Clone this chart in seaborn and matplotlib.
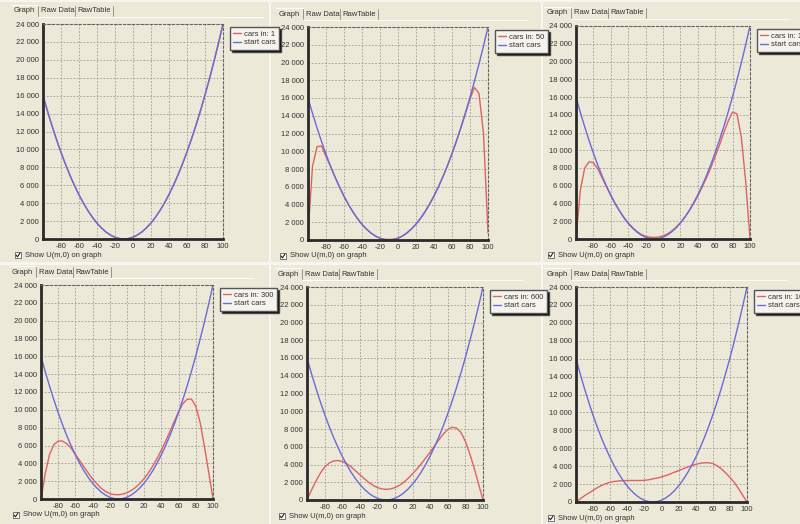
import pandas as pd
import matplotlib.pyplot as plt
import seaborn as sns
from matplotlib.patches import Rectangle
from matplotlib.lines import Line2D

# --- data -------------------------------------------------------------
X_POS = list(range(-100, 101, 5))

START_CARS = [16000, 14270, 12640, 11110, 9670, 8340, 7100, 5970, 4930, 3990,
              3150, 2410, 1770, 1230, 780, 440, 190, 50, 0, 50,
              200, 450, 800, 1250, 1790, 2440, 3180, 4030, 4970, 6010,
              7150, 8390, 9730, 11170, 12700, 14340, 16070, 17910, 19840, 21870,
              24000]

CARS_1 = list(START_CARS)

CARS_50 = [600, 8300, 10500, 10600, 9400, 8300, 7100, 5970, 4930, 3990,
           3150, 2410, 1770, 1230, 780, 440, 200, 90, 60, 90,
           210, 450, 800, 1250, 1790, 2440, 3180, 4030, 4970, 6010,
           7150, 8390, 9730, 11170, 12700, 14300, 15900, 17200, 16500, 12000,
           800]

CARS_130 = [0, 5500, 8000, 8700, 8600, 7900, 6900, 5900, 4900, 4000,
            3200, 2450, 1800, 1300, 850, 520, 300, 200, 180, 220,
            350, 570, 900, 1330, 1850, 2450, 3150, 3950, 4850, 5850,
            6900, 8050, 9300, 10600, 12000, 13300, 14300, 14100, 11500, 6500,
            0]

CARS_300 = [0, 2900, 5000, 6100, 6500, 6500, 6200, 5700, 5000, 4300,
            3600, 2900, 2250, 1700, 1200, 850, 600, 500, 480, 550,
            700, 950, 1300, 1750, 2300, 2950, 3700, 4550, 5500, 6500,
            7600, 8700, 9800, 10700, 11200, 11200, 10400, 8600, 5900, 3000,
            0]

CARS_600 = [0, 1100, 2100, 3000, 3700, 4150, 4400, 4450, 4350, 4100,
            3750, 3300, 2850, 2400, 2000, 1650, 1400, 1250, 1200, 1250,
            1400, 1650, 2000, 2450, 2950, 3500, 4100, 4750, 5400, 6100,
            6800, 7450, 7950, 8200, 8100, 7600, 6600, 5200, 3600, 1800,
            0]

CARS_1000 = [0, 350, 700, 1000, 1300, 1600, 1850, 2050, 2200, 2300,
             2350, 2380, 2400, 2400, 2400, 2400, 2420, 2480, 2580, 2680,
             2800, 2950, 3120, 3320, 3500, 3700, 3880, 4050, 4200, 4320,
             4380, 4380, 4300, 4050, 3700, 3250, 2750, 2200, 1500, 750,
             0]

STEPS = [1, 50, 130, 300, 600, 1000]
CARS = [CARS_1, CARS_50, CARS_130, CARS_300, CARS_600, CARS_1000]

X_TICKS = [-80, -60, -40, -20, 0, 20, 40, 60, 80, 100]
Y_TICKS = list(range(0, 24001, 2000))
TABS = ["Graph", "Raw Data", "RawTable"]
CHECK_TEXT = "Show U(m,0) on graph"

# --- layout (pixels in the 800x524 picture) --------------------------
W, H = 800, 524
AX_BOXES = [(43, 24, 223, 239), (308, 27, 488, 240), (576, 26, 750, 239),
            (41, 285, 213, 499), (307, 287, 483, 500), (576, 287, 747, 502)]
PANEL_RECTS = [(0, 2, 269, 262), (271, 2, 541, 262), (543, 2, 800, 262),
               (0, 265, 269, 524), (271, 265, 541, 524), (543, 265, 800, 524)]

BEIGE = "#ECE9D8"
RED = "#E06262"
BLUE = "#6A6ADC"
TXT = "#333333"
FS = 5.5

sns.set_style("white")
plt.rcParams["font.family"] = ["Liberation Sans", "DejaVu Sans"]

fig = plt.figure(figsize=(8, 5.24), dpi=100)
fig.patch.set_facecolor("#F7F6F0")


def fx(px):
    return px / W


def fy(py):
    return 1 - py / H


for (x0, y0, x1, y1) in PANEL_RECTS:
    fig.add_artist(Rectangle((fx(x0), fy(y1)), fx(x1 - x0), (y1 - y0) / H,
                             transform=fig.transFigure, facecolor=BEIGE,
                             edgecolor="none", zorder=-5))

for i, (l, t, r, b) in enumerate(AX_BOXES):
    ax = fig.add_axes([fx(l), fy(b), fx(r - l), (b - t) / H])
    ax.set_facecolor(BEIGE)

    label = f"cars in: {STEPS[i]}"
    df = pd.DataFrame({
        "x": X_POS * 2,
        "value": CARS[i] + START_CARS,
        "series": [label] * len(X_POS) + ["start cars"] * len(X_POS),
    })
    sns.lineplot(data=df, x="x", y="value", hue="series",
                 hue_order=[label, "start cars"],
                 palette={label: RED, "start cars": BLUE},
                 linewidth=1.0, legend=False, ax=ax)

    ax.set_xlim(-100, 100)
    ax.set_ylim(0, 24000)
    ax.set_xticks(X_TICKS)
    ax.set_xticklabels([str(v) for v in X_TICKS])
    ax.set_yticks(Y_TICKS)
    ax.set_yticklabels([f"{v:,}".replace(",", " ") for v in Y_TICKS])
    ax.tick_params(length=0, labelsize=FS, colors=TXT, pad=3)
    ax.set_xlabel("")
    ax.set_ylabel("")
    ax.grid(True, color="#9A9A90", linestyle=(0, (2, 2)), linewidth=0.6)

    for side in ["left", "bottom"]:
        ax.spines[side].set_color("#2A2A2A")
        ax.spines[side].set_linewidth(2.0)
    for side in ["top", "right"]:
        ax.spines[side].set_color("#666660")
        ax.spines[side].set_linewidth(0.8)
        ax.spines[side].set_linestyle((0, (2, 2)))

    # legend box with hard drop shadow
    handles = [Line2D([], [], color=RED, lw=1.0), Line2D([], [], color=BLUE, lw=1.0)]
    ax.legend(handles, [label, "start cars"], loc="upper left",
              bbox_to_anchor=(fx(r + 7), fy(t + 3)), bbox_transform=fig.transFigure,
              borderaxespad=0, fontsize=FS, handlelength=1.0, handletextpad=0.4,
              borderpad=0.45, labelspacing=0.15, fancybox=False,
              frameon=True, edgecolor="#555555", facecolor="#F4F3EC",
              framealpha=1, labelcolor=TXT,
              shadow={"ox": 1.5, "oy": -1.5, "facecolor": "black", "alpha": 1.0})

    # tab strip
    ty = t - 13
    tab_x = [l - 29, l - 2, l + 34]
    for name, tx in zip(TABS, tab_x):
        fig.text(fx(tx), fy(ty), name, fontsize=FS, color=TXT,
                 ha="left", va="center")
    for sx in [l - 5, l + 32, l + 70]:
        fig.add_artist(Line2D([fx(sx), fx(sx)], [fy(ty - 5), fy(ty + 5)],
                              transform=fig.transFigure, color="#8A8878", lw=0.6))
    fig.add_artist(Line2D([fx(l - 32), fx(l - 5)], [fy(ty - 6), fy(ty - 6)],
                          transform=fig.transFigure, color="#FFFFFF", lw=0.6))
    fig.add_artist(Line2D([fx(l - 5), fx(r + 40)], [fy(ty + 6), fy(ty + 6)],
                          transform=fig.transFigure, color="#FFFFFF", lw=0.6))

    # checkbox
    cy = b + 16
    cx = l - 28
    fig.add_artist(Rectangle((fx(cx), fy(cy + 3)), fx(6), 6 / H,
                             transform=fig.transFigure, facecolor="white",
                             edgecolor="#444444", lw=0.5))
    fig.add_artist(Line2D([fx(cx + 1), fx(cx + 2.5), fx(cx + 5)],
                          [fy(cy), fy(cy + 1.8), fy(cy - 2)],
                          transform=fig.transFigure, color="#222222", lw=0.8))
    fig.text(fx(cx + 10), fy(cy), CHECK_TEXT, fontsize=FS, color=TXT,
             ha="left", va="center")

fig.savefig("out.png", dpi=100, facecolor=fig.get_facecolor())
